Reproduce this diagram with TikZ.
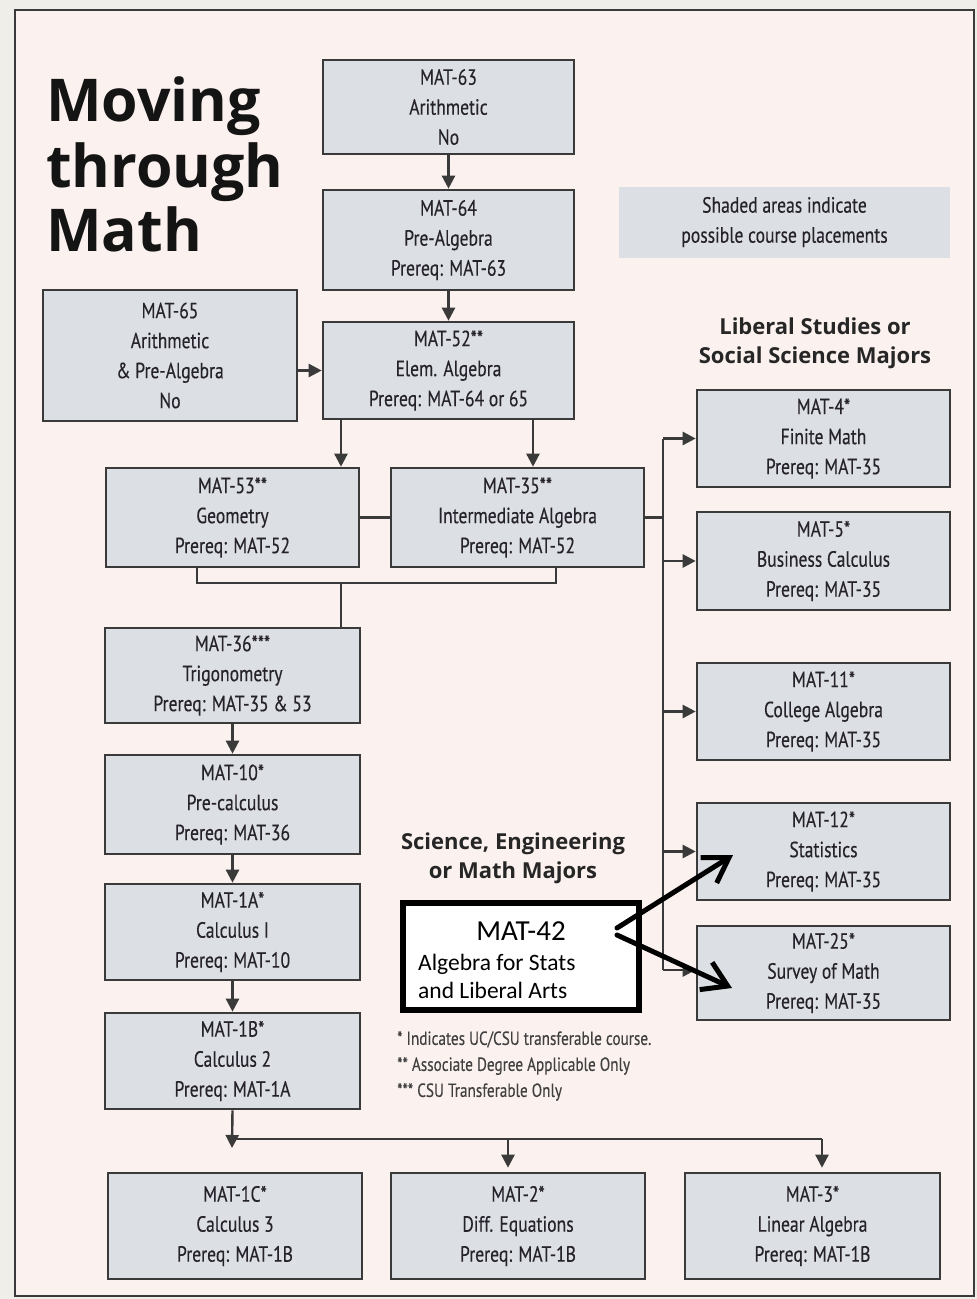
\documentclass[tikz,border=0pt]{standalone}
\usepackage{fontspec}
\setmainfont{PT Sans}
\newfontfamily\boxfont[FakeStretch=0.8,FakeBold=0.3]{PT Sans}
\newfontfamily\headfont{Open Sans}
\newfontfamily\calfont{Carlito}
\usetikzlibrary{arrows.meta,calc}
\definecolor{bgout}{HTML}{EFEEE8}
\definecolor{bgin}{HTML}{FBF1EE}
\definecolor{boxfill}{HTML}{DCDFE3}
\definecolor{boxline}{HTML}{3A3A3A}
\definecolor{txt}{HTML}{26222C}
\newcommand\cb[6]{\node[cbox, minimum width={(#4-#2)*1pt}, minimum height={(#5-#3)*1pt}] (#1) at ({(#2+#4)/2},{(#3+#5)/2}) {#6};}
\begin{document}
\begin{tikzpicture}[x=1pt,y=-1pt,
  cbox/.style={draw=boxline, line width=2.6pt, fill=boxfill, align=center, inner sep=0pt,
    font=\boxfont\fontsize{22}{30}\selectfont, text=txt},
  conn/.style={draw=boxline, line width=2.4pt},
  arr/.style={conn, -{Triangle[length=13pt,width=13pt]}},
  bigarr/.style={draw=black, line width=5pt, line cap=round, -{Straight Barb[length=24pt,width=30pt]}},
  head/.style={font=\headfont\bfseries\fontsize{22}{29}\selectfont, text=black!85, align=center},
  title/.style={font=\headfont\bfseries\fontsize{59}{62}\selectfont, text=black!92, anchor=base west, inner sep=0pt}
]
\useasboundingbox (0,0) rectangle (977,1299);
\fill[bgout] (0,0) rectangle (977,1299);
\draw[fill=bgin, draw=boxline, line width=2.5pt] (15,10) rectangle (974,1296);

% title
\node[title] (t1) at (46,121) {Moving};
\node[title] (t2) at (46,187) {through};
\node[title] (t3) at (46,251) {Math};

% legend
\node[fill=boxfill, minimum width=331pt, minimum height=71pt, align=center, inner sep=0pt,
  font=\boxfont\fontsize{22}{30}\selectfont, text=txt] (leg) at (784.5,222)
  {Shaded areas indicate\\possible course placements};

% headers
\node[head] (h1) at (815,343) {Liberal Studies or\\Social Science Majors};
\node[head] (h2) at (513,858) {Science, Engineering\\or Math Majors};

% boxes
\cb{n63}{323}{60}{574}{154}{MAT-63\\Arithmetic\\No}
\cb{n64}{323}{190}{574}{290}{MAT-64\\Pre-Algebra\\Prereq: MAT-63}
\cb{n65}{43}{290}{297}{421}{MAT-65\\Arithmetic\\\& Pre-Algebra\\No}
\cb{n52}{323}{322}{574}{419}{MAT-52**\\Elem. Algebra\\Prereq: MAT-64 or 65}
\cb{n53}{106}{468}{359}{567}{MAT-53**\\Geometry\\Prereq: MAT-52}
\cb{n35}{391}{468}{644}{567}{MAT-35**\\Intermediate Algebra\\Prereq: MAT-52}
\cb{n4}{697}{390}{950}{487}{MAT-4*\\Finite Math\\Prereq: MAT-35}
\cb{n5}{697}{512}{950}{610}{MAT-5*\\Business Calculus\\Prereq: MAT-35}
\cb{n11}{697}{663}{950}{760}{MAT-11*\\College Algebra\\Prereq: MAT-35}
\cb{n12}{697}{803}{950}{900}{MAT-12*\\Statistics\\Prereq: MAT-35}
\cb{n25}{697}{926}{950}{1020}{MAT-25*\\Survey of Math\\Prereq: MAT-35}
\cb{n36}{105}{628}{360}{723}{MAT-36***\\Trigonometry\\Prereq: MAT-35 \& 53}
\cb{n10}{105}{755}{360}{854}{MAT-10*\\Pre-calculus\\Prereq: MAT-36}
\cb{n1A}{105}{884}{360}{980}{MAT-1A*\\Calculus I\\Prereq: MAT-10}
\cb{n1B}{105}{1013}{360}{1109}{MAT-1B*\\Calculus 2\\Prereq: MAT-1A}
\cb{n1C}{108}{1173}{362}{1279}{MAT-1C*\\Calculus 3\\Prereq: MAT-1B}
\cb{n2}{391}{1173}{645}{1279}{MAT-2*\\Diff. Equations\\Prereq: MAT-1B}
\cb{n3}{685}{1173}{940}{1279}{MAT-3*\\Linear Algebra\\Prereq: MAT-1B}

% footnotes
\node[anchor=west, align=left, inner sep=0pt, font=\boxfont\fontsize{19}{26}\selectfont, text=black!75] (fn) at (397,1066)
  {* Indicates UC/CSU transferable course.\\** Associate Degree Applicable Only\\*** CSU Transferable Only};

% top connectors
\draw[arr] (n63.south) -- (n64.north);
\draw[arr] (n64.south) -- (n52.north);
\draw[arr] (n65.east |- n52.west) -- (n52.west);
\coordinate (d1) at (341,419);
\coordinate (d2) at (533,419);
\draw[arr] (d1) -- (d1 |- n53.north);
\draw[arr] (d2) -- (d2 |- n35.north);
\draw[conn] (n53.east) -- (n35.west);

% right bus
\coordinate (bt) at (663,438.5);
\coordinate (bb) at (663,970);
\draw[conn] (n35.east) -- (n35.east -| bt);
\draw[conn] (bt) -- (bb);
\draw[arr] (bt) -- (bt -| n4.west);
\draw[arr] (n5.west -| bt) -- (n5.west);
\draw[arr] (n11.west -| bt) -- (n11.west);
\draw[arr] (n12.west -| bt) -- (n12.west);
\draw[arr] (bb) -- (bb -| n25.west);

% bracket to trig
\coordinate (bl) at (197,583);
\coordinate (br) at (556,583);
\coordinate (bm) at (341,583);
\draw[conn] (bl |- n53.south) -- (bl) -- (br) -- (br |- n35.south);
\draw[conn] (bm) -- (bm |- n36.north);

% left column
\draw[arr] (n36.south) -- (n10.north);
\draw[arr] (n10.south) -- (n1A.north);
\draw[arr] (n1A.south) -- (n1B.north);

% bottom bus
\coordinate (bus1) at (232,1139);
\coordinate (bus2) at (508,1139);
\coordinate (bus3) at (822,1139);
\draw[conn] (bus1) -- (bus3);
\draw[arr] (n1B.south) -- (232,1148);
\draw[arr, shorten >=4pt] (bus2) -- (bus2 |- n2.north);
\draw[arr, shorten >=4pt] (bus3) -- (bus3 |- n3.north);

% MAT-42
\node[draw=black, line width=6pt, fill=white, minimum width=236pt, minimum height=107pt, inner sep=0pt] (n42) at (521,956.5) {};
\node[anchor=base, inner sep=0pt, font=\calfont\fontsize{29}{30}\selectfont] (m42a) at (521,940) {MAT-42};
\node[anchor=base west, inner sep=0pt, font=\calfont\fontsize{23.5}{28}\selectfont] (m42b) at (418,970) {Algebra for Stats};
\node[anchor=base west, inner sep=0pt, font=\calfont\fontsize{23.5}{28}\selectfont] (m42c) at (418,998) {and Liberal Arts};
\coordinate (a1s) at (617,928);
\coordinate (a1e) at (733,855);
\coordinate (a2s) at (617,935);
\coordinate (a2e) at (732,988);
\draw[bigarr] (a1s) -- (a1e);
\draw[bigarr] (a2s) -- (a2e);
\end{tikzpicture}
\end{document}
